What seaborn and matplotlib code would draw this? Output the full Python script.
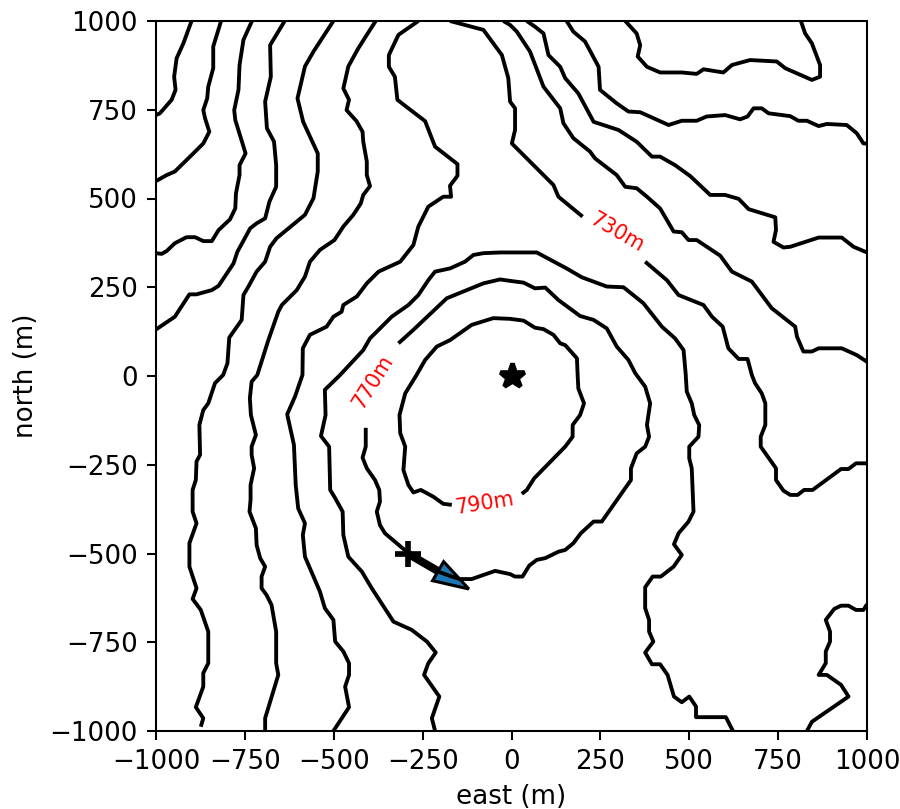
import matplotlib
matplotlib.use('Agg')
import matplotlib.pyplot as plt
import seaborn as sns

# contour lines, east / north in metres
c1_x = [-1000, -989, -956, -945, -949, -942, -923, -900]
c1_y = [735, 740, 778, 806, 843, 895, 937, 1000]

c2_x = [-1000, -970, -947, -895, -867, -850, -862, -867, -856, -853, -839, -839, -817]
c2_y = [549, 566, 576, 627, 655, 688, 726, 749, 782, 815, 867, 928, 1000]

c3_x = [-1000, -984, -970, -947, -914, -890, -867, -843, -824, -792, -777, -775, -765, -765, -748, -764, -777, -780, -768, -765, -754, -730]
c3_y = [346, 344, 352, 374, 391, 391, 380, 380, 411, 441, 472, 515, 566, 594, 627, 679, 721, 749, 806, 876, 947, 1000]

c4_x = [-1000, -947, -906, -886, -843, -824, -782, -771, -735, -717, -693, -681, -662, -662, -668, -688, -693, -677, -679, -638]
c4_y = [131, 167, 230, 230, 242, 254, 317, 350, 416, 430, 444, 491, 533, 594, 660, 698, 773, 843, 932, 1000]

c5_x = [-874, -867, -888, -867, -867, -853, -853, -874, -897, -886, -906, -906, -886, -897, -897, -888, -886, -876, -878, -867, -853, -834, -811, -799, -794, -759, -754, -740, -717, -693, -679, -661, -581, -557, -545, -545, -586, -602, -581, -557, -501]
c5_y = [-988, -964, -933, -875, -837, -809, -720, -659, -628, -598, -537, -471, -415, -382, -321, -293, -241, -222, -138, -96, -77, -20, 3, 36, 108, 158, 228, 252, 294, 322, 364, 388, 454, 501, 576, 627, 716, 782, 872, 914, 1000]

c6_x = [-693, -693, -656, -662, -662, -675, -689, -703, -703, -693, -707, -717, -719, -737, -734, -734, -724, -731, -731, -719, -733, -736, -731, -715, -684, -656, -646, -604, -581, -567, -539, -498, -473, -445, -424, -417, -398, -407, -407, -417, -419, -436, -464, -457, -473, -459, -431, -407, -382]
c6_y = [-1000, -964, -842, -809, -720, -645, -617, -598, -565, -537, -513, -476, -429, -382, -349, -307, -260, -222, -199, -166, -110, -63, -16, 3, 101, 181, 200, 242, 280, 322, 355, 383, 421, 454, 486, 510, 535, 566, 604, 660, 688, 718, 749, 778, 810, 872, 923, 961, 1000]

c7_x = [-501, -457, -468, -457, -457, -473, -496, -501, -525, -539, -581, -587, -581, -600, -607, -612, -631, -609, -588, -587, -567, -520, -501, -478, -473, -435, -407, -374, -313, -276, -262, -234, -192, -170, -173, -152, -152, -215, -243, -290, -321, -328, -345, -345, -318, -262]
c7_y = [-1000, -933, -875, -842, -809, -776, -748, -687, -654, -607, -509, -448, -415, -373, -307, -194, -108, -58, 3, 78, 116, 139, 167, 181, 200, 224, 261, 294, 322, 369, 421, 477, 505, 505, 536, 564, 597, 646, 718, 754, 778, 843, 871, 904, 961, 1000]

c8_x = [-215, -224, -203, -246, -234, -213, -238, -281, -332, -393, -421, -459, -473, -475, -496, -510, -513, -536, -523, -525, -482, -417, -398, -337, -290, -262, -234, -215, -173, -131, -107, -79, -32, 71, 155, 198, 268, 315, 371, 423, 460, 484, 490, 493, 507, 514, 528, 526, 500, 500, 507, 512, 498, 470, 457, 479, 456, 420, 397, 376, 376, 387, 387, 399, 376, 395, 418, 439, 457, 479, 500, 519, 519, 603, 623]
c8_y = [-1000, -964, -903, -842, -809, -779, -748, -715, -692, -598, -551, -509, -448, -382, -344, -321, -199, -169, -110, -39, 3, 73, 106, 167, 200, 228, 270, 294, 303, 322, 341, 346, 348, 348, 303, 278, 252, 250, 205, 139, 106, 73, 5, -44, -77, -110, -138, -171, -199, -232, -260, -382, -410, -443, -474, -504, -537, -565, -565, -595, -654, -687, -720, -748, -779, -812, -812, -842, -903, -919, -903, -931, -961, -961, -1000]

# 770m ring, the gap is where its label sits
c9_x = [-318, -276, -182, -79, -32, -4, 34, 66, 95, 132, 193, 231, 268, 296, 329, 348, 376, 390, 381, 387, 376, 352, 336, 336, 254, 231, 195, 174, 151, 132, 95, 71, 50, 31, 10, -4, -46, -112, -145, -168, -201, -290, -356, -370, -379, -370, -372, -384, -407, -419, -410, -410]
c9_y = [92, 130, 219, 261, 272, 268, 263, 247, 249, 214, 169, 158, 134, 83, 45, 8, -30, -77, -138, -171, -199, -218, -260, -293, -410, -410, -443, -471, -490, -495, -513, -518, -534, -565, -565, -558, -549, -572, -572, -565, -553, -499, -443, -420, -382, -354, -321, -293, -260, -230, -199, -146]

# 790m ring
c10_x = [29, 43, 64, 151, 172, 172, 193, 204, 188, 186, 184, 151, 137, 118, 90, 66, 34, -4, -51, -112, -173, -210, -243, -267, -299, -315, -313, -299, -304, -290, -276, -255, -220, -192, -168]
c10_y = [-332, -321, -288, -199, -171, -138, -110, -77, -35, 3, 50, 87, 92, 116, 132, 136, 156, 161, 163, 144, 101, 83, 45, 3, -49, -110, -161, -199, -265, -307, -328, -321, -340, -360, -363]

# 730m line, two pieces either side of the label
c11a_x = [-173, -79, -27, -9, -4, 10, 10, 1, 66, 118, 132, 200]
c11a_y = [1000, 975, 904, 839, 773, 754, 693, 655, 590, 538, 505, 449]
c11b_x = [376, 437, 470, 540, 564, 594, 610, 639, 664, 676, 685, 704, 714, 714, 701, 701, 744, 744, 765, 784, 805, 823, 847, 927, 948, 969, 1000]
c11b_y = [322, 270, 228, 200, 167, 139, 78, 48, 48, 3, -20, -49, -77, -138, -171, -199, -260, -293, -323, -335, -335, -321, -321, -262, -262, -246, -246]

c12_x = [-23, -4, 15, 52, 90, 137, 146, 174, 221, 235, 296, 320, 352, 381, 418, 456, 479, 498, 521, 587, 620, 676, 732, 798, 803, 821, 845, 864, 929, 971, 1000]
c12_y = [1000, 989, 970, 914, 815, 754, 712, 670, 632, 613, 566, 533, 529, 505, 472, 407, 405, 383, 383, 339, 294, 266, 191, 139, 111, 69, 69, 78, 78, 59, 40]

c13_x = [43, 66, 90, 104, 137, 151, 188, 231, 301, 352, 395, 418, 460, 503, 559, 601, 639, 667, 742, 744, 737, 765, 784, 864, 929, 962, 1000]
c13_y = [1000, 984, 965, 904, 871, 839, 796, 716, 693, 660, 618, 618, 594, 563, 510, 510, 499, 470, 447, 411, 378, 362, 364, 390, 390, 364, 348]

c14_x = [155, 174, 207, 245, 249, 296, 329, 362, 442, 479, 521, 549, 601, 643, 664, 681, 704, 723, 784, 807, 831, 864, 887, 943, 971, 990, 1000]
c14_y = [1000, 970, 942, 871, 806, 768, 745, 743, 707, 719, 719, 731, 735, 723, 731, 754, 754, 740, 732, 719, 719, 704, 710, 707, 684, 655, 655]

c15_x = [320, 352, 362, 355, 381, 418, 479, 521, 540, 596, 620, 671, 746, 770, 845, 868, 868, 845, 826, 814]
c15_y = [1000, 965, 932, 900, 871, 855, 855, 851, 864, 855, 876, 890, 886, 867, 834, 843, 876, 937, 965, 1000]

c16_x = [831, 845, 948, 927, 887, 864, 884, 884, 896, 896, 884, 908, 927, 948, 969, 990, 1000]
c16_y = [-1000, -974, -903, -870, -842, -842, -809, -776, -748, -720, -687, -656, -647, -647, -659, -659, -643]

contours = [
    (c1_x, c1_y), (c2_x, c2_y), (c3_x, c3_y), (c4_x, c4_y),
    (c5_x, c5_y), (c6_x, c6_y), (c7_x, c7_y), (c8_x, c8_y),
    (c9_x, c9_y), (c10_x, c10_y), (c11a_x, c11a_y), (c11b_x, c11b_y),
    (c12_x, c12_y), (c13_x, c13_y), (c14_x, c14_y), (c15_x, c15_y), (c16_x, c16_y),
]

label_text = ['730m', '770m', '790m']
label_x = [298, -389, -75]
label_y = [405, -17, -358]
label_rot = [-30, 58, 9]

ticks = [-1000, -750, -500, -250, 0, 250, 500, 750, 1000]

start_x, start_y = -292, -500
arrow_dx, arrow_dy = 172, -100

sns.set_style('ticks', {'text.color': 'k', 'axes.labelcolor': 'k', 'axes.edgecolor': 'k',
                        'xtick.color': 'k', 'ytick.color': 'k'})
plt.rcParams['font.family'] = ['DejaVu Sans']
plt.rcParams['font.size'] = 10.2
plt.rcParams['axes.labelsize'] = 10.2
plt.rcParams['xtick.labelsize'] = 10.2
plt.rcParams['ytick.labelsize'] = 10.2
DPI = 185
fig, ax = plt.subplots(figsize=(900 / DPI, 809 / DPI), dpi=DPI)

for xs, ys in contours:
    sns.lineplot(x=xs, y=ys, ax=ax, color='k', lw=1.5, sort=False, estimator=None,
                 solid_joinstyle='round', solid_capstyle='butt')

for text, x, y, rot in zip(label_text, label_x, label_y, label_rot):
    ax.text(x, y, text, color='r', fontsize=8, rotation=rot, rotation_mode='anchor', ha='center', va='center')

# arrow sits under the contour lines
ax.arrow(start_x, start_y, arrow_dx, arrow_dy, width=14, head_width=62, head_length=100, length_includes_head=True,
         fc='C0', ec='k', lw=1.2, zorder=1.5)
ax.plot(0, 0, marker='*', color='k', ms=10, mew=1.8, zorder=4)
ax.plot(start_x, start_y, marker='+', color='k', ms=10.5, mew=2.2, zorder=4)

ax.set_xlim(-1000, 1000)
ax.set_ylim(-1000, 1000)
ax.set_xticks(ticks)
ax.set_yticks(ticks)
ax.set_xlabel('east (m)', labelpad=3.5)
ax.set_ylabel('north (m)', labelpad=4)
ax.tick_params(direction='out', length=3.5, width=0.8)
for spine in ax.spines.values():
    spine.set_linewidth(0.8)

fig.subplots_adjust(left=156 / 900, right=867 / 900, top=1 - 21 / 809, bottom=1 - 731 / 809)
fig.savefig('out.png', dpi=DPI)
